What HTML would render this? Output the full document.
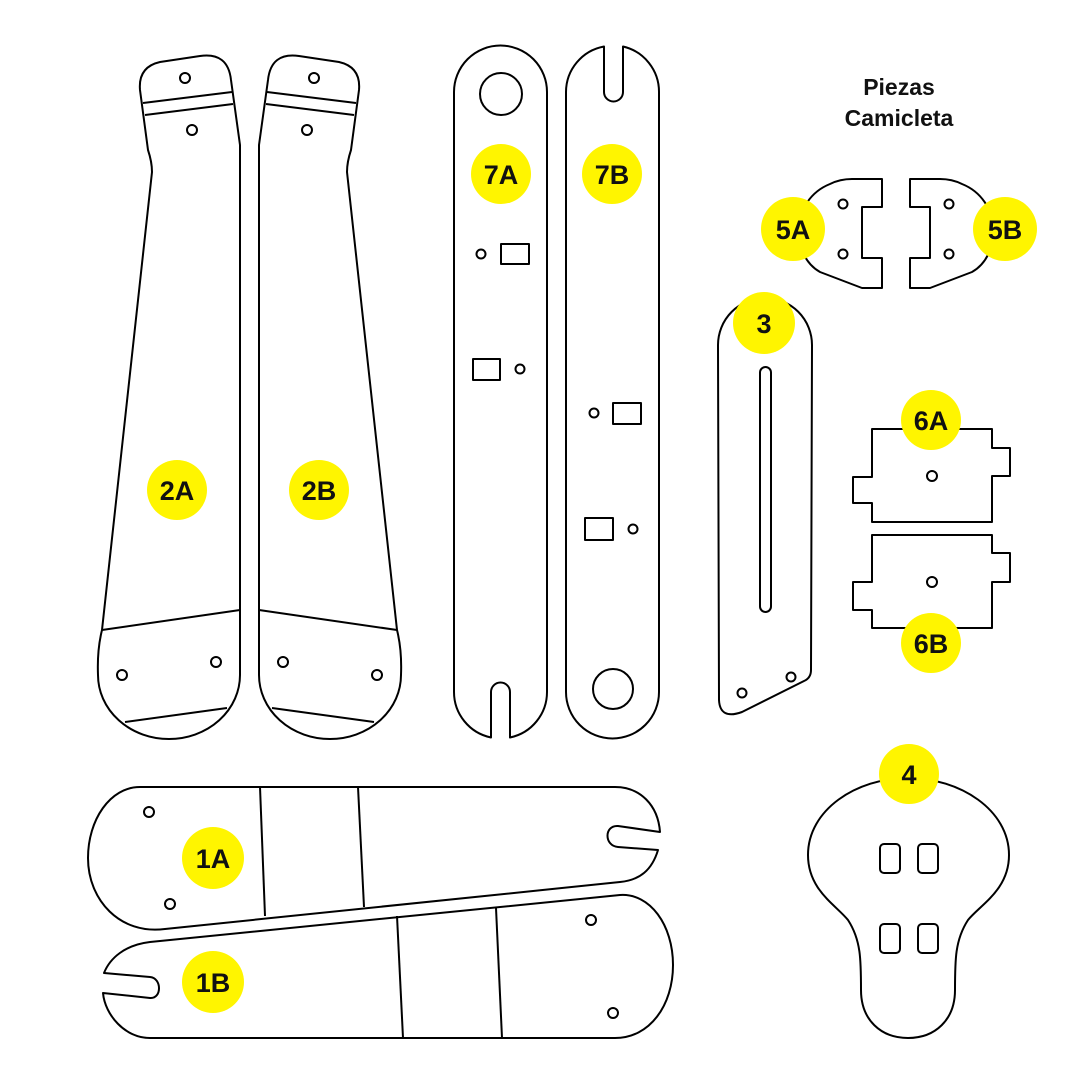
<!DOCTYPE html>
<html><head><style>body{margin:0;background:#fff}svg{display:block}</style></head><body>
<svg width="1081" height="1081" viewBox="0 0 1081 1081" xmlns="http://www.w3.org/2000/svg">
<g fill="#fff" stroke="#000" stroke-width="2" stroke-linejoin="round">
<!-- 2A -->
<g id="p2">
<path d="M152 172 L102 630 Q97 650 98 675 A71 64 0 0 0 240 675 L240 145 L231 80 Q228 52 200 56 L160 62 Q138 67 140 90 L148 150 Q152 162 152 172 Z"/>
<line x1="143" y1="103" x2="232" y2="92"/><line x1="145" y1="115" x2="233" y2="104"/>
<line x1="102" y1="630" x2="240" y2="610"/><line x1="125" y1="722" x2="227" y2="708"/>
<circle cx="185" cy="78" r="5"/><circle cx="192" cy="130" r="5"/>
<circle cx="122" cy="675" r="5"/><circle cx="216" cy="662" r="5"/>
</g>
<g transform="translate(499,0) scale(-1,1)">
<path d="M152 172 L102 630 Q97 650 98 675 A71 64 0 0 0 240 675 L240 145 L231 80 Q228 52 200 56 L160 62 Q138 67 140 90 L148 150 Q152 162 152 172 Z"/>
<line x1="143" y1="103" x2="232" y2="92"/><line x1="145" y1="115" x2="233" y2="104"/>
<line x1="102" y1="630" x2="240" y2="610"/><line x1="125" y1="722" x2="227" y2="708"/>
<circle cx="185" cy="78" r="5"/><circle cx="192" cy="130" r="5"/>
<circle cx="122" cy="675" r="5"/><circle cx="216" cy="662" r="5"/>
</g>
<!-- 7A -->
<path d="M491 737.5 A46.5 46.5 0 0 1 454 692 L454 92 A46.5 46.5 0 0 1 547 92 L547 692 A46.5 46.5 0 0 1 510 737.5 L510 692 A9.5 9.5 0 0 0 491 692 Z"/>
<circle cx="501" cy="94" r="21"/>
<circle cx="481" cy="254" r="4.5"/><rect x="501" y="244" width="28" height="20"/>
<rect x="473" y="359" width="27" height="21"/><circle cx="520" cy="369" r="4.5"/>
<!-- 7B -->
<path d="M604 46.5 A46.5 46.5 0 0 0 566 92 L566 692 A46.5 46.5 0 0 0 659 692 L659 92 A46.5 46.5 0 0 0 623 46.5 L623 92 A9.5 9.5 0 0 1 604 92 Z"/>
<circle cx="613" cy="689" r="20"/>
<circle cx="594" cy="413" r="4.5"/><rect x="613" y="403" width="28" height="21"/>
<rect x="585" y="518" width="28" height="22"/><circle cx="633" cy="529" r="4.5"/>
<!-- 3 -->
<path d="M718 345 A47 47 0 0 1 812 345 L811 670 Q811 678 804 681 L742 712 Q720 720 719 700 Z"/>
<rect x="760" y="367" width="11" height="245" rx="5.5"/>
<circle cx="742" cy="693" r="4.5"/><circle cx="791" cy="677" r="4.5"/>
<!-- 5A 5B -->
<g id="p5">
<path d="M882 179 L882 207 L862 207 L862 258 L882 258 L882 288 L862 288 L820 272 C790 255 790 200 830 184 Q840 179 852 179 Z"/>
<circle cx="843" cy="204" r="4.5"/><circle cx="843" cy="254" r="4.5"/>
</g>
<g transform="translate(1792,0) scale(-1,1)">
<path d="M882 179 L882 207 L862 207 L862 258 L882 258 L882 288 L862 288 L820 272 C790 255 790 200 830 184 Q840 179 852 179 Z"/>
<circle cx="843" cy="204" r="4.5"/><circle cx="843" cy="254" r="4.5"/>
</g>
<!-- 6A 6B -->
<polygon points="872,429 992,429 992,448 1010,448 1010,476 992,476 992,522 872,522 872,503 853,503 853,477 872,477"/>
<circle cx="932" cy="476" r="5"/>
<polygon points="872,535 992,535 992,553 1010,553 1010,582 992,582 992,628 872,628 872,610 853,610 853,582 872,582"/>
<circle cx="932" cy="582" r="5"/>
<!-- 4 -->
<path d="M908 778 C960 778 1009 810 1009 855 C1009 890 980 905 968 920 C955 940 955 960 955 990 C955 1020 935 1038 908 1038 C881 1038 861 1020 861 990 C861 960 861 940 848 920 C836 905 808 890 808 855 C808 810 856 778 908 778 Z"/>
<rect x="880" y="844" width="20" height="29" rx="4"/><rect x="918" y="844" width="20" height="29" rx="4"/>
<rect x="880" y="924" width="20" height="29" rx="4"/><rect x="918" y="924" width="20" height="29" rx="4"/>
<!-- 1A -->
<path d="M140 787 L615 787 C640 787 658 805 660 832 L618 826 C604 825 604 846 618 847 L658 850 C652 870 640 880 620 882 L165 929 C120 935 88 900 88 858 C88 820 110 787 140 787 Z"/>
<line x1="260" y1="787" x2="265" y2="916"/><line x1="358" y1="787" x2="364" y2="907"/>
<circle cx="149" cy="812" r="5"/><circle cx="170" cy="904" r="5"/>
<!-- 1B -->
<path d="M150 942 L620 895 C650 893 673 925 673 965 C673 1005 650 1038 615 1038 L150 1038 C125 1038 105 1015 103 993 L150 998 C162 999 162 978 150 977 L104 973 C110 958 125 945 150 942 Z"/>
<line x1="397" y1="916" x2="403" y2="1038"/><line x1="496" y1="908" x2="502" y2="1038"/>
<circle cx="591" cy="920" r="5"/><circle cx="613" cy="1013" r="5"/>
</g>
<g fill="#fff500">
<circle cx="177" cy="490" r="30"/><circle cx="319" cy="490" r="30"/>
<circle cx="501" cy="174" r="30"/><circle cx="612" cy="174" r="30"/>
<circle cx="764" cy="323" r="31"/>
<circle cx="793" cy="229" r="32"/><circle cx="1005" cy="229" r="32"/>
<circle cx="931" cy="420" r="30"/><circle cx="931" cy="643" r="30"/>
<circle cx="909" cy="774" r="30"/>
<circle cx="213" cy="858" r="31"/><circle cx="213" cy="982" r="31"/>
</g>
<g font-family="Liberation Sans, sans-serif" font-weight="bold" font-size="27" text-anchor="middle" fill="#111">
<text x="177" y="500">2A</text><text x="319" y="500">2B</text>
<text x="501" y="184">7A</text><text x="612" y="184">7B</text>
<text x="764" y="333">3</text>
<text x="793" y="239">5A</text><text x="1005" y="239">5B</text>
<text x="931" y="430">6A</text><text x="931" y="653">6B</text>
<text x="909" y="784">4</text>
<text x="213" y="868">1A</text><text x="213" y="992">1B</text>
<text x="899" y="95" font-size="23">Piezas</text>
<text x="899" y="126" font-size="23">Camicleta</text>
</g>
</svg>
</body></html>
